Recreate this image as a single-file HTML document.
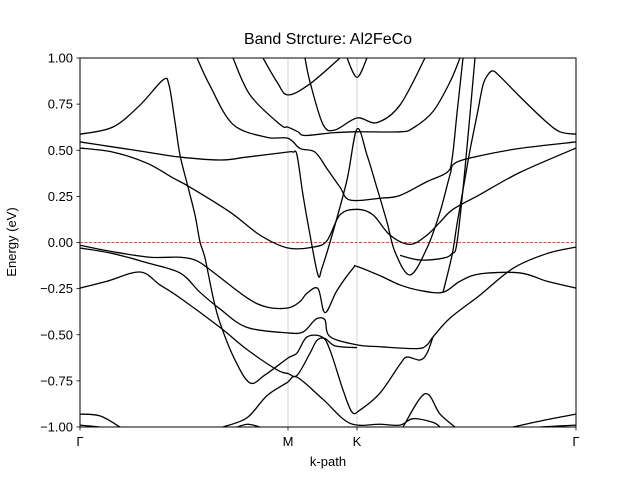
<!DOCTYPE html>
<html><head><meta charset="utf-8"><style>
body{margin:0;background:#fff;}
svg{display:block;font-family:"Liberation Sans","DejaVu Sans",sans-serif;}
</style></head><body>
<svg width="640" height="480">
<g id="root"></g>
<text x="328" y="44" text-anchor="middle" font-size="16">Band Strcture: Al2FeCo</text>
<text x="328" y="466" text-anchor="middle" font-size="13">k-path</text>
<text x="16" y="242" text-anchor="middle" font-size="13" transform="rotate(-90 16 242)">Energy (eV)</text>
</svg>
<script>
const kTicks = [0, 2.08, 2.77, 4.96];
const kTickLabels = ["Γ", "M", "K", "Γ"];
const eTicks = [1.0, 0.75, 0.5, 0.25, 0.0, -0.25, -0.5, -0.75, -1.0];
const eTickLabels = ["1.00","0.75","0.50","0.25","0.00","−0.25","−0.50","−0.75","−1.00"];
const fermiLevel = 0.0;
const band1 = [[0,.587],[.33,.626],[.6,.745],[.83,.881],[.89,.854],[.95,.653],[1.0,.474],[1.08,.301],[1.15,.149],[1.2,.003],[1.25,-.084],[1.33,-.295],[1.4,-.436],[1.55,-.637],[1.7,-.761],[1.85,-.718],[2.08,-.626],[2.17,-.599],[2.27,-.512],[2.42,-.512],[2.5,-.583],[2.63,-.799],[2.72,-.919],[2.8,-.908],[3.0,-.816],[3.2,-.66],[3.27,-.621],[3.4,-.637],[3.47,-.6],[3.53,-.512]];
const band2 = [[0,.545],[.33,.518],[.67,.49],[1.0,.463],[1.4,.447],[1.67,.463],[2.07,.49],[2.13,.49],[2.17,.474],[2.23,.257],[2.3,.041],[2.38,-.176],[2.42,-.138],[2.53,.057],[2.67,.339],[2.77,.615],[2.87,.474],[2.97,.295],[3.07,.111],[3.15,-.051],[3.3,-.176],[3.47,-.03],[3.6,.165],[3.7,.366],[3.75,.43],[4.0,.47],[4.4,.51],[4.96,.545]];
const band3 = [[0,.512],[.33,.49],[.67,.43],[.93,.35],[1.1,.3],[1.5,.165],[1.8,.04],[2.08,-.03],[2.33,-.025],[2.47,.01],[2.6,.15],[2.77,.18],[2.93,.15],[3.1,.04],[3.3,-.01],[3.47,.04],[3.6,.11],[3.73,.18],[4.0,.26],[4.4,.38],[4.96,.512]];
const band4 = [[1.17,1.0],[1.3,.85],[1.53,.64],[1.87,.57],[2.08,.565],[2.2,.51],[2.35,.49],[2.47,.4],[2.6,.3],[2.7,.23],[3.0,.24],[3.2,.255],[3.47,.33],[3.67,.38],[3.72,.45],[3.77,.7],[3.83,1.0]];
const band5 = [[1.53,1.0],[1.7,.8],[2.0,.64],[2.08,.625],[2.18,.6],[2.25,.58],[2.53,.595],[2.77,.6],[3.2,.6],[3.33,.62],[3.53,.71],[3.7,.87],[3.8,1.0]];
const band6 = [[1.83,1.0],[1.97,.87],[2.08,.8],[2.3,.86],[2.6,1.0]];
const band7 = [[2.25,1.0],[2.3,.87],[2.43,.64],[2.55,.61],[2.77,.675],[2.97,.65],[3.2,.745],[3.45,1.0]];
const band8 = [[2.67,1.0],[2.77,.895],[2.87,1.0]];
const band9 = [[3.63,-.27],[3.72,-.07],[3.77,.1],[3.83,.285],[3.9,.5],[3.97,.69],[4.03,.854],[4.08,.91],[4.13,.93],[4.2,.9],[4.4,.79],[4.65,.66],[4.8,.6],[4.96,.587]];
const band10 = [[3.2,-.07],[3.4,-.095],[3.63,-.085],[3.72,-.06],[3.77,0],[3.85,.4],[3.95,1.0]];
const band11 = [[0,-.015],[.33,-.05],[.7,-.08],[1.0,-.08],[1.17,-.1],[1.33,-.16],[1.67,-.3],[1.87,-.35],[2.08,-.355],[2.2,-.32],[2.27,-.275],[2.38,-.25],[2.45,-.38],[2.57,-.26],[2.73,-.14],[2.77,-.13],[3.0,-.18],[3.2,-.23],[3.4,-.26],[3.63,-.27],[3.8,-.21],[4.0,-.17],[4.4,-.165],[4.67,-.21],[4.96,-.247]];
const band12 = [[0,-.03],[.33,-.06],[.67,-.11],[1.0,-.165],[1.2,-.27],[1.4,-.36],[1.67,-.46],[2.08,-.49],[2.23,-.485],[2.33,-.43],[2.38,-.41],[2.45,-.42],[2.5,-.51],[2.77,-.555],[3.0,-.565],[3.37,-.575],[3.47,-.555],[3.53,-.512],[3.7,-.41],[4.0,-.285],[4.33,-.14],[4.67,-.06],[4.96,-.025]];
const band13 = [[0,-.247],[.27,-.21],[.6,-.16],[.8,-.23],[1.0,-.30],[1.4,-.46],[1.67,-.58],[1.97,-.69],[2.08,-.71],[2.17,-.72],[2.3,-.6],[2.37,-.53],[2.45,-.52],[2.55,-.56],[2.77,-.57]];
const band14 = [[1.43,-1.0],[1.67,-.95],[1.87,-.83],[2.07,-.76],[2.17,-.73],[2.43,-.85],[2.7,-.98],[3.0,-.985],[3.2,-.99],[3.33,-.955],[3.53,-.975],[3.6,-1.0]];
const band15 = [[3.23,-1.0],[3.45,-.82],[3.6,-.93],[3.75,-1.0]];
const band16 = [[0,-.93],[.2,-.94],[.4,-1.0]];
const band17 = [[0,-.99],[.1,-.995],[.2,-1.0]];
const band18 = [[1.57,-1.0],[1.68,-.985],[1.8,-1.0]];
const band19 = [[4.33,-1.0],[4.67,-.96],[4.96,-.93]];
const band20 = [[4.6,-1.0],[4.96,-.99]];
const bands = [band1,band2,band3,band4,band5,band6,band7,band8,band9,band10,band11,band12,band13,band14,band15,band16,band17,band18,band19,band20];

const X0=80,X1=576,Y0=58,Y1=427,KMAX=4.96,EMIN=-1,EMAX=1;
const xs=k=>X0+(k/KMAX)*(X1-X0);
const ys=e=>Y1-(e-EMIN)/(EMAX-EMIN)*(Y1-Y0);
const NS="http://www.w3.org/2000/svg";
const root=document.getElementById('root');
function mk(tag,attrs,parent){const el=document.createElementNS(NS,tag);for(const a in attrs)el.setAttribute(a,attrs[a]);(parent||root).appendChild(el);return el;}

const defs=mk('defs',{});
const cp=mk('clipPath',{id:'clip'},defs);
mk('rect',{x:X0,y:Y0,width:X1-X0,height:Y1-Y0},cp);

kTicks.slice(1,3).forEach(k=>{
  const l=mk('line',{x1:xs(k),x2:xs(k),y1:Y0,y2:Y1,stroke:'#c8c8c8','stroke-width':0.8});
  
  
});
const fl=mk('line',{x1:X0,x2:X1,y1:ys(fermiLevel),y2:ys(fermiLevel),stroke:'#ff0000','stroke-width':0.8,'stroke-dasharray':'3,1.5'});



const g=mk('g',{'clip-path':'url(#clip)'});
function pathFor(pts){
  const p=pts.map(([k,e])=>[xs(k),ys(e)]);
  let d='M'+p[0][0].toFixed(2)+','+p[0][1].toFixed(2);
  for(let i=0;i<p.length-1;i++){
    const a=p[i-1]||p[i],b=p[i],c=p[i+1],n=p[i+2]||c;
    const c1=[b[0]+(c[0]-a[0])/6,b[1]+(c[1]-a[1])/6];
    const c2=[c[0]-(n[0]-b[0])/6,c[1]-(n[1]-b[1])/6];
    d+='C'+c1[0].toFixed(2)+','+c1[1].toFixed(2)+' '+c2[0].toFixed(2)+','+c2[1].toFixed(2)+' '+c[0].toFixed(2)+','+c[1].toFixed(2);
  }
  return d;
}
bands.forEach((b,i)=>{
  const p=mk('path',{d:pathFor(b),fill:'none',stroke:'#000','stroke-width':1.3},g);
  
  
});

const fr=mk('rect',{x:X0,y:Y0,width:X1-X0,height:Y1-Y0,fill:'none',stroke:'#000','stroke-width':1});



eTicks.forEach((e,i)=>{
  mk('line',{x1:X0-3.5,x2:X0,y1:ys(e),y2:ys(e),stroke:'#000','stroke-width':0.8});
  const t=mk('text',{x:X0-7,y:ys(e)+4.5,'text-anchor':'end','font-size':13,fill:'#000'});
  t.textContent=eTickLabels[i];
  
  
});
kTicks.forEach((k,i)=>{
  mk('line',{x1:xs(k),x2:xs(k),y1:Y1,y2:Y1+3.5,stroke:'#000','stroke-width':0.8});
  const t=mk('text',{x:xs(k),y:Y1+19,'text-anchor':'middle','font-size':13,fill:'#000'});
  t.textContent=kTickLabels[i];
  
  
});
</script>
</body></html>
